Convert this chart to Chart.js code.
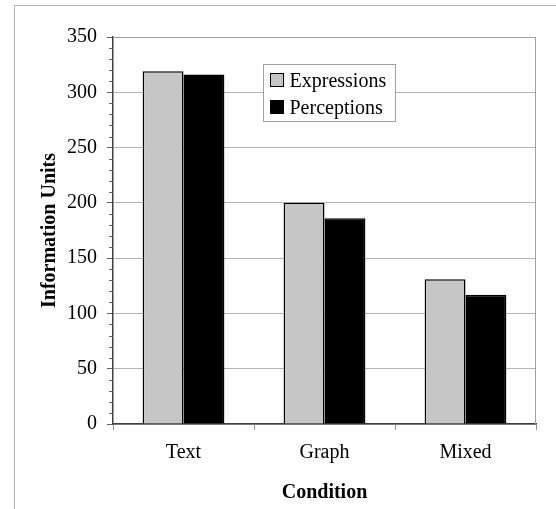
<!DOCTYPE html>
<html>
<head>
    <meta charset="utf-8">
    <title>Information Units by Condition</title>
    <script src="https://cdn.jsdelivr.net/npm/chart.js@4.4.0/dist/chart.umd.min.js"></script>
    <style>
        html, body {
            margin: 0;
            padding: 0;
            background: #fff;
        }
        #wrap {
            position: relative;
            width: 556px;
            height: 509px;
        }
        #frame {
            position: absolute;
            left: 14px;
            top: 5px;
            right: 0;
            bottom: 0;
            border-left: 1px solid #b4b4b4;
            border-top: 1px solid #b4b4b4;
            pointer-events: none;
        }
        canvas {
            position: absolute;
            left: 0;
            top: 0;
        }
    </style>
</head>
<body>
<div id="wrap">
    <canvas id="chart" width="556" height="509"></canvas>
    <div id="frame"></div>
</div>
<script>
    var categories = ['Text', 'Graph', 'Mixed']
    var expressions = [319, 200, 131]
    var perceptions = [316, 186, 117]
    var seriesNames = ['Expressions', 'Perceptions']
    var yTicks = [0, 50, 100, 150, 200, 250, 300, 350]

    var serif = "'Liberation Serif', 'Times New Roman', serif"

    // plot border on top/right, drawn before bars
    var plotFrame = {
        id: 'plotFrame',
        beforeDatasetsDraw: function (chart) {
            var a = chart.chartArea, c = chart.ctx
            c.save()
            c.strokeStyle = '#a0a0a0'
            c.lineWidth = 1
            c.beginPath()
            c.moveTo(a.left, a.top + 0.5)
            c.lineTo(a.right - 0.5, a.top + 0.5)
            c.lineTo(a.right - 0.5, a.bottom)
            c.stroke()
            c.restore()
        }
    }

    // short minor ticks every 10 on the value axis
    var minorTicks = {
        id: 'minorTicks',
        afterDraw: function (chart) {
            var s = chart.scales.y, c = chart.ctx
            c.save()
            c.strokeStyle = '#606060'
            c.lineWidth = 1
            s.ticks.forEach(function (t) {
                if (yTicks.indexOf(t.value) >= 0) return
                var py = Math.round(s.getPixelForValue(t.value)) + 0.5
                c.beginPath()
                c.moveTo(s.right - 4, py)
                c.lineTo(s.right, py)
                c.stroke()
            })
            c.restore()
        }
    }

    // boxed legend inside the plot, like the original
    var boxLegend = {
        id: 'boxLegend',
        afterDraw: function (chart) {
            var a = chart.chartArea, c = chart.ctx
            var x = a.left + 150.5, y = a.top + 27.5, w = 132, h = 57
            c.save()
            c.fillStyle = '#fff'
            c.fillRect(x, y, w, h)
            c.strokeStyle = '#a0a0a0'
            c.lineWidth = 1
            c.strokeRect(x, y, w, h)
            c.font = '20px ' + serif
            c.textBaseline = 'middle'
            chart.data.datasets.forEach(function (ds, i) {
                var cy = y + 16 + i * 27
                c.fillStyle = ds.backgroundColor
                c.fillRect(x + 7, cy - 7, 13, 13)
                c.strokeStyle = '#000'
                c.strokeRect(x + 7, cy - 7, 13, 13)
                c.fillStyle = '#000'
                c.fillText(ds.label, x + 26, cy + 1)
            })
            c.restore()
        }
    }

    var ctx = document.getElementById('chart').getContext('2d')
    window.chart = new Chart(ctx, {
        type: 'bar',
        data: {
            labels: categories,
            datasets: [{
                label: seriesNames[0],
                data: expressions,
                backgroundColor: '#c6c6c6',
                borderColor: '#000',
                borderWidth: 1.5
            }, {
                label: seriesNames[1],
                data: perceptions,
                backgroundColor: '#000',
                borderColor: '#000',
                borderWidth: 1.5
            }]
        },
        options: {
            responsive: false,
            animation: false,
            layout: {
                autoPadding: false,
                padding: {top: 37, right: 20, left: 0, bottom: 0}
            },
            datasets: {
                bar: {
                    barPercentage: 1,
                    categoryPercentage: 0.58
                }
            },
            plugins: {
                legend: {display: false},
                tooltip: {enabled: false}
            },
            scales: {
                x: {
                    afterFit: function (s) { s.height = 85 },
                    grid: {
                        drawOnChartArea: false,
                        tickLength: 6,
                        tickColor: '#909090'
                    },
                    border: {color: '#404040', width: 1.5},
                    ticks: {
                        color: '#000',
                        padding: 11,
                        font: {family: serif, size: 20}
                    },
                    title: {
                        display: true,
                        text: 'Condition',
                        color: '#000',
                        padding: {top: 0, bottom: 4},
                        font: {family: serif, size: 20, weight: 'bold'}
                    }
                },
                y: {
                    min: 0,
                    max: 350,
                    afterFit: function (s) { s.width = 113 },
                    ticks: {
                        stepSize: 10,
                        autoSkip: false,
                        color: '#000',
                        padding: 10,
                        font: {family: serif, size: 20},
                        callback: function (v) { return yTicks.indexOf(v) >= 0 ? v : '' }
                    },
                    grid: {
                        tickLength: 6,
                        color: function (c) {
                            return yTicks.indexOf(c.tick.value) >= 0 ? '#b4b4b4' : 'transparent'
                        },
                        tickColor: function (c) {
                            return yTicks.indexOf(c.tick.value) >= 0 ? '#606060' : 'transparent'
                        }
                    },
                    border: {color: '#404040', width: 1.5},
                    title: {
                        display: true,
                        text: 'Information Units',
                        color: '#000',
                        padding: {top: 38, bottom: 0},
                        font: {family: serif, size: 20, weight: 'bold'}
                    }
                }
            }
        },
        plugins: [plotFrame, minorTicks, boxLegend]
    })
</script>
</body>
</html>
